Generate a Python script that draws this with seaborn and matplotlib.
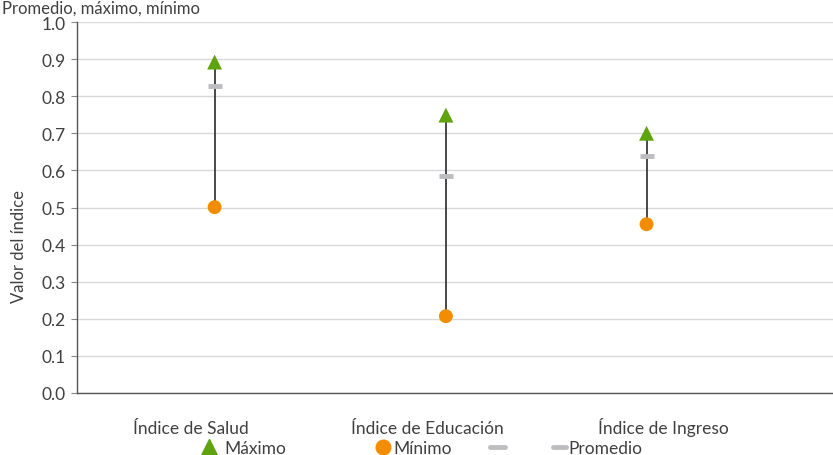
import matplotlib
matplotlib.use("Agg")
import matplotlib.pyplot as plt
import seaborn as sns
import pandas as pd
import numpy as np
from matplotlib.lines import Line2D

categorias = ["Índice de Salud", "Índice de Educación", "Índice de Ingreso"]
maximo = [0.892, 0.749, 0.700]
minimo = [0.501, 0.207, 0.455]
promedio = [0.827, 0.585, 0.639]
leyenda = ["Máximo", "Mínimo", "", "Promedio"]

# horizontal offset of markers relative to the category label (layout)
x_offset = [0.10, 0.08, -0.07]

sns.set_theme(style="white")
plt.rcParams["font.family"] = ["Lato", "DejaVu Sans"]

W, H = 833, 456
fig = plt.figure(figsize=(W / 100, H / 100), dpi=100)
ax = fig.add_axes([77 / W, 1 - 394 / H, 1 - 77 / W, (394 - 23) / H])

idx = np.arange(len(categorias)) + np.array(x_offset)
df = pd.DataFrame({"x": idx, "max": maximo, "min": minimo, "prom": promedio})

green = "#5FA30F"
orange = "#F28C00"
gray = "#BDBDC2"
txt = "#404040"

ax.vlines(df["x"], df["min"], df["max"], color="#3a3a3a", lw=1.3, zorder=2)
sns.scatterplot(data=df, x="x", y="max", marker="^", s=115, color=green,
                edgecolor="none", ax=ax, zorder=4)
sns.scatterplot(data=df, x="x", y="min", marker="o", s=100, color=orange,
                edgecolor="none", ax=ax, zorder=4)
sns.scatterplot(data=df, x="x", y="prom", marker="_", s=100, color=gray,
                linewidth=3.5, ax=ax, zorder=3)

ax.set_ylim(0, 1.0)
ax.set_xlim(-0.483, 2.72)
yt = np.round(np.arange(0, 1.01, 0.1), 1)
ax.set_yticks(yt)
ax.set_yticklabels([f"{v:.1f}" for v in yt], fontsize=12.5, color=txt)
ax.set_xticks(range(len(categorias)))
ax.set_xticklabels(categorias, fontsize=12.5, color=txt)
for lab in ax.get_xticklabels():
    lab.set_va("baseline")
ax.yaxis.grid(True, color="#d9d9d9", lw=1)
ax.set_axisbelow(True)
for s in ["top", "right"]:
    ax.spines[s].set_visible(False)
for s in ["left", "bottom"]:
    ax.spines[s].set_color("#555555")
    ax.spines[s].set_linewidth(1)
ax.tick_params(axis="y", left=True, length=4, width=0.8, color="#888888", pad=4)
ax.tick_params(axis="x", bottom=False, pad=23)
ax.set_xlabel("")
ax.set_ylabel("")

fig.text(19 / W, 1 - 247 / H, "Valor del índice", fontsize=12, color=txt,
         rotation=90, ha="center", va="center")

# legend (figure-level artists)
ly = 1 - 449 / H
def fx(px):
    return px / W
fig.add_artist(Line2D([fx(209)], [ly + 1 / H], marker="^", color=green, ls="none",
                      markersize=11, transform=fig.transFigure))
fig.text(fx(224), ly, leyenda[0], fontsize=12.5, color=txt, va="center", ha="left")
fig.add_artist(Line2D([fx(383)], [ly + 1 / H], marker="o", color=orange, ls="none",
                      markersize=10.5, transform=fig.transFigure))
fig.text(fx(393), ly, leyenda[1], fontsize=12.5, color=txt, va="center", ha="left")
fig.add_artist(Line2D([fx(490), fx(505)], [ly + 1 / H] * 2, color=gray, lw=3.5,
                      transform=fig.transFigure))
fig.text(fx(508), ly, leyenda[2], fontsize=12.5, color=txt, va="center", ha="left")
fig.add_artist(Line2D([fx(553), fx(566)], [ly + 1 / H] * 2, color=gray, lw=3.5,
                      transform=fig.transFigure))
fig.text(fx(568), ly, leyenda[3], fontsize=12.5, color=txt, va="center", ha="left")

fig.text(2 / W, 1 - 1 / H, "Promedio, máximo, mínimo", fontsize=12, color=txt,
         ha="left", va="top")

fig.savefig("out.png", dpi=100)
